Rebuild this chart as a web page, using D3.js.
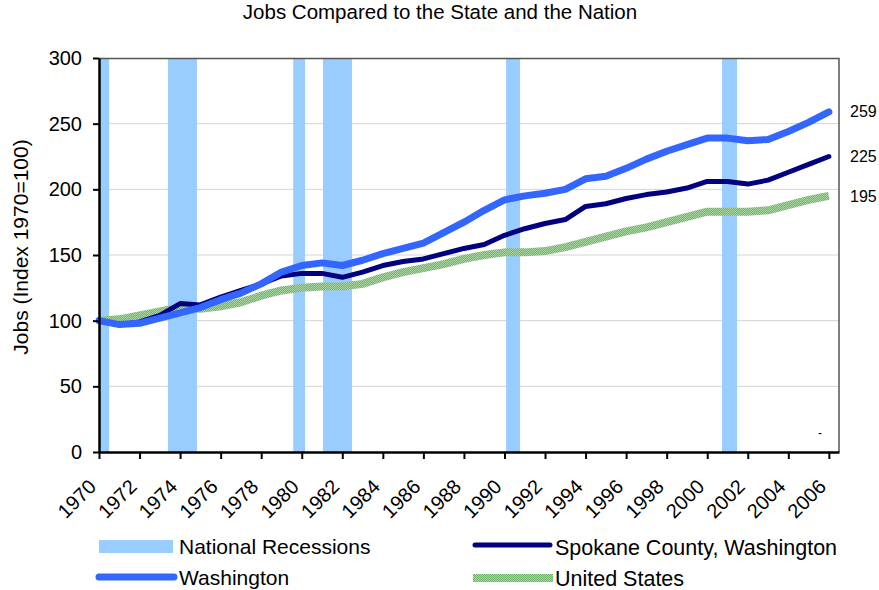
<!DOCTYPE html>
<html>
<head>
<meta charset="utf-8">
<script src="https://cdn.jsdelivr.net/npm/d3@7"></script>
<style>
  body { margin: 0; background: #fff; }
  svg text { font-family: "Liberation Sans", Arial, Helvetica, sans-serif; fill: #000; }
  .axis path, .axis line { stroke: #000; }
</style>
</head>
<body>
<svg id="chart" width="879" height="590"></svg>
<script>
// data
const years = d3.range(1970, 2007);
const washington = [100, 97, 98, 102, 106, 110, 116, 121, 128, 137, 142, 144, 142, 146, 151, 155, 159, 167, 175, 184,
    192, 195, 197, 200, 208, 210, 216, 223, 229, 234, 239, 239, 237, 238, 244, 251, 259];
const spokane = [100, 97, 99, 104, 113, 112, 118, 123, 128, 134, 136, 136, 133, 137, 142, 145, 147, 151, 155, 158,
    165, 170, 174, 177, 187, 189, 193, 196, 198, 201, 206, 206, 204, 207, 213, 219, 225];
const unitedStates = [100, 101, 104, 107, 110, 109, 111, 114, 119, 123, 125, 126, 126, 128, 133, 137, 140, 143, 147, 150,
    152, 152, 153, 156, 160, 164, 168, 171, 175, 179, 183, 183, 183, 184, 188, 192, 195];
const recessionStart = [1970, 1973.4, 1979.58, 1981.05, 1990.08, 2000.73];
const recessionEnd = [1970.5, 1974.83, 1980.16, 1982.48, 1990.77, 2001.47];
const xTickLabels = d3.range(1970, 2007, 2);
const yTickLabels = [0, 50, 100, 150, 200, 250, 300];
const endLabels = [259, 225, 195];

const margin = {top: 58, left: 99};
const width = 740, height = 394;

const svg = d3.select('#chart');

// green texture for the US line
const defs = svg.append('defs');
const pat = defs.append('pattern')
    .attr('id', 'usPattern')
    .attr('width', 2).attr('height', 2)
    .attr('patternUnits', 'userSpaceOnUse');
pat.append('rect').attr('width', 2).attr('height', 2).attr('fill', '#a9d6a3');
pat.append('rect').attr('width', 1).attr('height', 1).attr('fill', '#6fb46a');
pat.append('rect').attr('x', 1).attr('y', 1).attr('width', 1).attr('height', 1).attr('fill', '#6fb46a');

const xScale = d3.scaleLinear().domain([1970, 2006.5]).range([0, width]);
const yScale = d3.scaleLinear().domain([0, 300]).range([height, 0]);

const chart = svg.append('g')
    .attr('transform', `translate(${margin.left},${margin.top})`);

// title
svg.append('text')
    .attr('x', 440).attr('y', 19)
    .attr('text-anchor', 'middle')
    .style('font-size', '20.5px')
    .text('Jobs Compared to the State and the Nation');

// gridlines
chart.append('g')
    .selectAll('line')
    .data(yTickLabels.filter(d => d > 0 && d < 300))
    .join('line')
    .attr('x1', 0).attr('x2', width)
    .attr('y1', d => yScale(d)).attr('y2', d => yScale(d))
    .attr('stroke', '#d4d4d4').attr('stroke-width', 1);

// recession bands
chart.append('g')
    .selectAll('rect')
    .data(recessionStart)
    .join('rect')
    .attr('x', d => xScale(d))
    .attr('y', 0)
    .attr('width', (d, i) => xScale(recessionEnd[i]) - xScale(d))
    .attr('height', height)
    .attr('fill', '#99ccff');

// plot frame, top and right
chart.append('path')
    .attr('d', `M0,0.5H${width}V${height}`)
    .attr('fill', 'none')
    .attr('stroke', '#555').attr('stroke-width', 1.5);

const line = d3.line()
    .x((d, i) => xScale(years[i]))
    .y(d => yScale(d));

chart.append('path')
    .datum(unitedStates)
    .attr('d', line)
    .attr('fill', 'none')
    .attr('stroke', 'url(#usPattern)')
    .attr('stroke-width', 8)
    .attr('stroke-linejoin', 'round');

chart.append('path')
    .datum(spokane)
    .attr('d', line)
    .attr('fill', 'none')
    .attr('stroke', '#000080')
    .attr('stroke-width', 5)
    .attr('stroke-linejoin', 'round')
    .attr('stroke-linecap', 'round');

chart.append('path')
    .datum(washington)
    .attr('d', line)
    .attr('fill', 'none')
    .attr('stroke', '#3366ff')
    .attr('stroke-width', 7)
    .attr('stroke-linejoin', 'round')
    .attr('stroke-linecap', 'round');

// axes
const yAxis = d3.axisLeft(yScale)
    .tickValues(yTickLabels)
    .tickSize(6)
    .tickSizeOuter(0)
    .tickPadding(11);
const yAxisG = chart.append('g').attr('class', 'axis').call(yAxis);
yAxisG.select('.domain').attr('stroke-width', 2.5);
yAxisG.selectAll('.tick line').attr('stroke-width', 2);
yAxisG.selectAll('text').style('font-size', '20px').attr('fill', '#000');

const xAxis = d3.axisBottom(xScale)
    .tickValues(xTickLabels)
    .tickSize(7)
    .tickSizeOuter(0)
    .tickFormat(d3.format('d'));
const xAxisG = chart.append('g')
    .attr('class', 'axis')
    .attr('transform', `translate(0,${height})`)
    .call(xAxis);
xAxisG.select('.domain').attr('stroke-width', 2.5);
xAxisG.selectAll('.tick line').attr('stroke-width', 2);
xAxisG.selectAll('text')
    .style('font-size', '20px')
    .attr('fill', '#000')
    .attr('text-anchor', 'end')
    .attr('x', 0).attr('y', 0).attr('dy', '0.35em')
    .attr('transform', 'translate(-7,31) rotate(-45)');

// y axis title
svg.append('text')
    .attr('transform', 'translate(28,247) rotate(-90)')
    .attr('text-anchor', 'middle')
    .style('font-size', '21px')
    .text('Jobs (Index 1970=100)');

// end value labels
svg.append('g')
    .selectAll('text')
    .data(endLabels)
    .join('text')
    .attr('x', 850)
    .attr('y', d => margin.top + yScale(d))
    .attr('dy', '0.35em')
    .style('font-size', '16px')
    .text(d => d);

svg.append('text')
    .attr('x', 818).attr('y', 437)
    .style('font-size', '12px')
    .text('-');

// legend
const legend = svg.append('g');
legend.append('rect')
    .attr('x', 99).attr('y', 540).attr('width', 74).attr('height', 13)
    .attr('fill', '#99ccff');
legend.append('text').attr('x', 179).attr('y', 547).attr('dy', '0.35em')
    .style('font-size', '21px').text('National Recessions');

legend.append('line')
    .attr('x1', 99).attr('x2', 174).attr('y1', 577).attr('y2', 577)
    .attr('stroke', '#3366ff').attr('stroke-width', 7).attr('stroke-linecap', 'round');
legend.append('text').attr('x', 179).attr('y', 578).attr('dy', '0.35em')
    .style('font-size', '21px').text('Washington');

legend.append('line')
    .attr('x1', 475).attr('x2', 550).attr('y1', 545).attr('y2', 545)
    .attr('stroke', '#000080').attr('stroke-width', 5).attr('stroke-linecap', 'round');
legend.append('text').attr('x', 555).attr('y', 547).attr('dy', '0.35em')
    .style('font-size', '21.5px').text('Spokane County, Washington');

legend.append('rect')
    .attr('x', 473).attr('y', 574).attr('width', 80).attr('height', 8)
    .attr('fill', 'url(#usPattern)');
legend.append('text').attr('x', 555).attr('y', 578).attr('dy', '0.35em')
    .style('font-size', '21.5px').text('United States');
</script>
</body>
</html>
